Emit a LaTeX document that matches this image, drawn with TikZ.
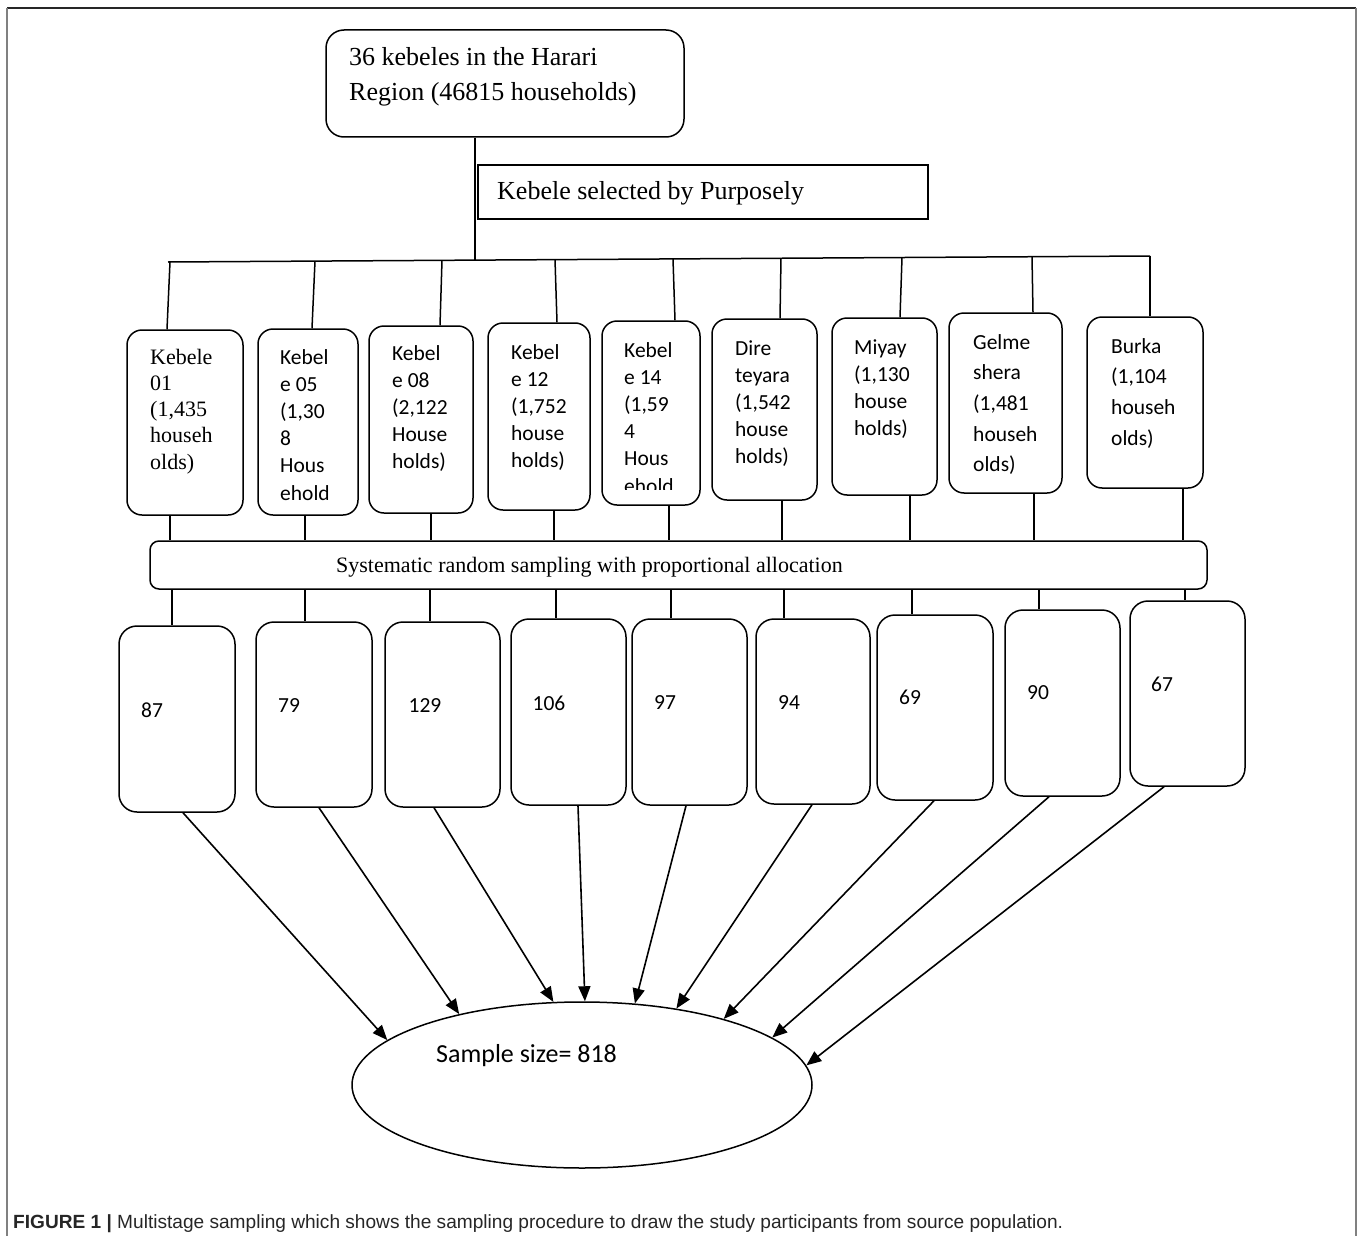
\documentclass[tikz,border=0pt]{standalone}
\usepackage{fontspec}
\setmainfont{Liberation Serif}
\newfontfamily\clbfont{Carlito}
\newfontfamily\capfont{Liberation Sans}
\usetikzlibrary{arrows.meta,shapes.geometric}
\begin{document}
\begin{tikzpicture}[x=1pt,y=-1pt,
  box/.style={draw,line width=1.5pt,rounded corners=15pt,inner sep=0pt},
  nbox/.style={draw,line width=1.5pt,rounded corners=18pt,inner sep=0pt,minimum width=115pt,minimum height=185pt},
  conn/.style={line width=1.5pt},
  arr/.style={line width=1.6pt,-{Triangle[length=15pt,width=12pt]}},
  tms/.style={inner sep=0pt,anchor=base west,align=left,font=\fontsize{22}{26.3}\selectfont},
  clb/.style={inner sep=0pt,anchor=base west,align=left,font=\clbfont\fontsize{21.5}{27.2}\selectfont},
  clbw/.style={inner sep=0pt,anchor=base west,align=left,font=\clbfont\fontsize{21.5}{30.7}\selectfont},
  num/.style={inner sep=0pt,font=\clbfont\fontsize{21.5}{26}\selectfont},
]
\useasboundingbox (0,0) rectangle (1362,1236);
% frame
\draw[line width=2pt,black!85] (7,8) -- (1356,8);
\draw[line width=2pt,black!50] (7,8) -- (7,1236);
\draw[line width=2pt,black!50] (1356,8) -- (1356,1236);

% top box
\node[box,rounded corners=18pt,minimum width=358pt,minimum height=107pt] (t) at (505,83.5) {};
\node[tms,font=\fontsize{26}{35}\selectfont] (tt) at (349,101) {36 kebeles in the Harari\\Region (46815 households)};

% purposely box
\node[draw,line width=1.5pt,inner sep=0pt,minimum width=450pt,minimum height=54pt] (p) at (703,192) {};
\node[tms,font=\fontsize{26}{30}\selectfont] (pt) at (497,199) {Kebele selected by Purposely};

% bus
\coordinate (busL) at (168,262);
\coordinate (busR) at (1150,256);
\coordinate (bm) at (475,260.1);
\draw[conn] (busL) -- (busR);
\draw[conn] (bm |- t.south) -- (bm);

% kebele boxes
\node[box,minimum width=116pt,minimum height=185pt] (k1) at (185,422.5) {};
\node[box,minimum width=100pt,minimum height=186pt] (k2) at (308,422) {};
\node[box,minimum width=104pt,minimum height=187pt] (k3) at (421,419.5) {};
\node[box,minimum width=102pt,minimum height=187pt] (k4) at (539,416.5) {};
\node[box,minimum width=98pt,minimum height=184pt] (k5) at (651,413) {};
\node[box,minimum width=105pt,minimum height=181pt] (k6) at (764.5,409.5) {};
\node[box,minimum width=105pt,minimum height=177pt] (k7) at (884.5,406.5) {};
\node[box,minimum width=113pt,minimum height=180pt] (k8) at (1005.5,403) {};
\node[box,minimum width=116pt,minimum height=171pt] (k9) at (1145,402.5) {};

\node[tms] (k1t) at (150,469.2) {Kebele\\01\\(1,435\\househ\\olds)};
\node[clb] (k2t) at (280,500) {Kebel\\e 05\\(1,30\\8\\Hous\\ehold};
\node[clb] (k3t) at (392,468.8) {Kebel\\e 08\\(2,122\\House\\holds)};
\node[clb] (k4t) at (511,467.8) {Kebel\\e 12\\(1,752\\house\\holds)};
\begin{scope}
\clip (600,300) rectangle (705,489);
\node[clb] (k5t) at (624,493) {Kebel\\e 14\\(1,59\\4\\Hous\\ehold};
\end{scope}
\node[clb] (k6t) at (735,463.8) {Dire\\teyara\\(1,542\\house\\holds)};
\node[clb] (k7t) at (854,435.6) {Miyay\\(1,130\\house\\holds)};
\node[clbw] (k8t) at (973,471.8) {Gelme\\shera\\(1,481\\househ\\olds)};
\node[clbw] (k9t) at (1111,445.1) {Burka\\(1,104\\househ\\olds)};

% bus drops
\foreach \bx/\by/\tx/\k in {170/262.0/167/k1, 315/261.1/312/k2, 442/260.3/440/k3, 555/259.6/557/k4, 673/258.9/675/k5, 781/258.3/780/k6, 902/257.5/900/k7, 1032/256.7/1033/k8, 1150/256.0/1150/k9}{
  \coordinate (b\k) at (\bx,\by);
  \coordinate (kt\k) at (\tx,0);
  \draw[conn] (b\k) -- (kt\k |- \k.north);
}

% systematic box
\node[draw,line width=1.5pt,rounded corners=9pt,inner sep=0pt,minimum width=1057pt,minimum height=48pt] (s) at (678.5,565) {};
\node[tms] (st) at (336,572) {Systematic random sampling with proportional allocation};

\foreach \x/\k in {170/k1, 305/k2, 431/k3, 554/k4, 669/k5, 782/k6, 910/k7, 1034/k8, 1183/k9}{
  \coordinate (su\k) at (\x,0);
  \draw[conn] (su\k |- \k.south) -- (su\k |- s.north);
}

% number boxes
\node[nbox,minimum width=116pt,minimum height=186pt] (n1) at (177,719) {};
\node[nbox,minimum width=116pt] (n2) at (314,714.5) {};
\node[nbox] (n3) at (442.5,714.5) {};
\node[nbox,minimum height=186pt] (n4) at (568.5,712) {};
\node[nbox,minimum height=186pt] (n5) at (689.5,712) {};
\node[nbox,minimum width=114pt] (n6) at (813,711.5) {};
\node[nbox,minimum width=116pt] (n7) at (935,707.5) {};
\node[nbox,minimum height=186pt] (n8) at (1062.5,703) {};
\node[nbox] (n9) at (1187.5,693.5) {};

\node[num] (n1t) at (152,710) {87};
\node[num] (n2t) at (289,706) {79};
\node[num] (n3t) at (425,706) {129};
\node[num] (n4t) at (549,703) {106};
\node[num] (n5t) at (665,703) {97};
\node[num] (n6t) at (789,703) {94};
\node[num] (n7t) at (910,697) {69};
\node[num] (n8t) at (1038,693) {90};
\node[num] (n9t) at (1162,684) {67};

\foreach \x/\n in {172/n1, 305/n2, 430/n3, 556/n4, 671/n5, 784/n6, 912/n7, 1039/n8, 1185/n9}{
  \coordinate (sl\n) at (\x,0);
  \draw[conn] (sl\n |- s.south) -- (sl\n |- \n.north);
}

% ellipse
\node[draw,ellipse,line width=1.5pt,inner sep=0pt,minimum width=460pt,minimum height=166pt] (e) at (582,1085) {};
\node[inner sep=0pt,anchor=base west,font=\clbfont\fontsize{26}{30}\selectfont] (et) at (436,1062) {Sample size= 818};

% arrows
\foreach \x/\n/\a in {183/n1/167, 319/n2/150.6, 434/n3/109.4, 578/n4/88, 686/n5/57.8, 812/n6/39.9, 934/n7/25.7, 1049/n8/14.7, 1164/n9/5.2}{
  \coordinate (as\n) at (\x,0);
  \draw[arr] (as\n |- \n.south) -- (e.\a);
}

% caption
\node[inner sep=0pt,anchor=base west,text=black!85,font=\capfont\fontsize{19.1}{22}\selectfont] (cap) at (13,1228) {\textbf{FIGURE 1 |} Multistage sampling which shows the sampling procedure to draw the study participants from source population.};
\end{tikzpicture}
\end{document}
